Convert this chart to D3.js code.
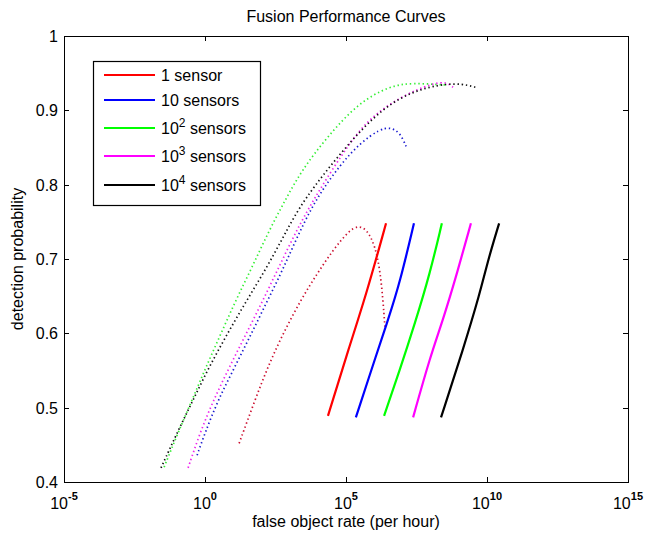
<!DOCTYPE html>
<html>
<head>
<meta charset="utf-8">
<script src="https://cdn.jsdelivr.net/npm/d3@7"></script>
<style>
  html, body { margin: 0; padding: 0; background: #fff; }
  svg { display: block; font-family: "Liberation Sans", Arial, sans-serif; }
  .tick-label { font-size: 16px; fill: #000; }
</style>
</head>
<body>
<svg id="chart" width="645" height="534"></svg>
<script>
// legend entries: [base text, superscript, rest]
const seriesNames = [
  ['1 sensor', '', ''],
  ['10 sensors', '', ''],
  ['10', '2', ' sensors'],
  ['10', '3', ' sensors'],
  ['10', '4', ' sensors']
]
const seriesColors = ['#ff0000', '#0000ff', '#00ff00', '#ff00ff', '#000000']
const dottedColors = ['#cc1030', '#1a1ad0', '#33ee33', '#ee22ee', '#111111']

// x values given as log10 exponents, y as detection probability
const xTickExponents = [-5, 0, 5, 10, 15]
const yTicks = [0.4, 0.5, 0.6, 0.7, 0.8, 0.9, 1]

// solid lines
const solid1 = [[4.36, 0.489], [5.10, 0.580], [5.74, 0.655], [6.42, 0.748]]
const solid10 = [[5.35, 0.487], [6.10, 0.574], [6.49, 0.618], [6.91, 0.668], [7.41, 0.748]]
const solid100 = [[6.35, 0.489], [6.91, 0.551], [7.45, 0.614], [7.98, 0.681], [8.40, 0.748]]
const solid1000 = [[7.38, 0.487], [7.98, 0.568], [8.44, 0.618], [8.94, 0.681], [9.43, 0.748]]
const solid10000 = [[8.37, 0.487], [9.15, 0.578], [9.75, 0.654], [10.04, 0.699], [10.43, 0.748]]

// dotted curves
const dotted1 = [[1.21, 0.452], [1.77, 0.510], [2.23, 0.555], [2.77, 0.600], [3.40, 0.645], [3.97, 0.680],
  [4.54, 0.712], [5.10, 0.738], [5.43, 0.745], [5.74, 0.740], [6.03, 0.718], [6.21, 0.684], [6.31, 0.645], [6.38, 0.609]]
const dotted10 = [[-0.28, 0.436], [0.0, 0.466], [0.46, 0.510], [1.06, 0.555], [1.65, 0.600], [2.23, 0.645],
  [2.80, 0.689], [3.33, 0.735], [3.97, 0.783], [4.80, 0.827], [5.50, 0.856], [6.21, 0.875], [6.56, 0.877],
  [6.91, 0.871], [7.16, 0.849]]
const dotted100 = [[-1.45, 0.420], [-0.96, 0.466], [-0.46, 0.510], [0.04, 0.555], [0.57, 0.600], [1.10, 0.645],
  [1.67, 0.689], [2.23, 0.735], [2.84, 0.779], [3.44, 0.820], [4.33, 0.864], [5.43, 0.910], [6.56, 0.933],
  [7.34, 0.937], [8.58, 0.934]]
const dotted1000 = [[-0.60, 0.419], [-0.18, 0.466], [0.30, 0.510], [0.87, 0.555], [1.47, 0.600], [2.06, 0.645],
  [2.62, 0.689], [3.20, 0.735], [3.83, 0.779], [4.89, 0.843], [5.74, 0.887], [6.91, 0.918], [8.09, 0.937],
  [8.58, 0.938], [8.83, 0.930]]
const dotted10000 = [[-1.56, 0.419], [-0.99, 0.466], [-0.43, 0.510], [0.15, 0.555], [0.80, 0.600], [1.49, 0.645],
  [2.20, 0.689], [2.85, 0.735], [3.48, 0.779], [4.89, 0.847], [6.31, 0.905], [7.62, 0.930], [8.94, 0.938],
  [9.68, 0.930]]

const solidSeries = [solid1, solid10, solid100, solid1000, solid10000]
const dottedSeries = [dotted1, dotted10, dotted100, dotted1000, dotted10000]

const svg = d3.select('#chart')
const margin = { top: 36, right: 17, bottom: 52, left: 64 }
const width = 645, height = 534
const innerW = width - margin.left - margin.right
const innerH = height - margin.top - margin.bottom

const x = d3.scaleLog().domain([1e-5, 1e15]).range([margin.left, margin.left + innerW])
const y = d3.scaleLinear().domain([0.4, 1]).range([margin.top + innerH, margin.top])

const line = d3.line()
  .x((d) => x(Math.pow(10, d[0])))
  .y((d) => y(d[1]))
  .curve(d3.curveBasis)

// title and axis labels
svg.append('text')
  .attr('x', margin.left + innerW / 2).attr('y', 22)
  .attr('text-anchor', 'middle').attr('font-size', 16)
  .text('Fusion Performance Curves')

svg.append('text')
  .attr('x', margin.left + innerW / 2).attr('y', 527)
  .attr('text-anchor', 'middle').attr('font-size', 16)
  .text('false object rate (per hour)')

svg.append('text')
  .attr('transform', `translate(23,${margin.top + innerH / 2}) rotate(-90)`)
  .attr('text-anchor', 'middle').attr('font-size', 16)
  .text('detection probability')

// curves
const plot = svg.append('g')
plot.selectAll('.dotted')
  .data(dottedSeries)
  .join('path')
  .attr('class', 'dotted')
  .attr('fill', 'none')
  .attr('stroke', (d, i) => dottedColors[i])
  .attr('stroke-width', 1.7)
  .attr('stroke-dasharray', '1.4 2.8')
  .attr('d', line)

plot.selectAll('.solid')
  .data(solidSeries)
  .join('path')
  .attr('class', 'solid')
  .attr('fill', 'none')
  .attr('stroke', (d, i) => seriesColors[i])
  .attr('stroke-width', 2.2)
  .attr('d', line)

// axes frame with inward ticks
const tickLen = 5
const axes = svg.append('g').attr('stroke', '#000').attr('shape-rendering', 'crispEdges')
axes.append('rect')
  .attr('x', margin.left + 0.5).attr('y', margin.top + 0.5)
  .attr('width', innerW).attr('height', innerH)
  .attr('fill', 'none').attr('stroke-width', 1.2)

xTickExponents.forEach((e) => {
  const px = Math.round(x(Math.pow(10, e))) + 0.5
  axes.append('line').attr('x1', px).attr('x2', px)
    .attr('y1', margin.top + innerH).attr('y2', margin.top + innerH - tickLen)
  axes.append('line').attr('x1', px).attr('x2', px)
    .attr('y1', margin.top).attr('y2', margin.top + tickLen)
})
yTicks.forEach((v) => {
  const py = Math.round(y(v)) + 0.5
  axes.append('line').attr('x1', margin.left).attr('x2', margin.left + tickLen)
    .attr('y1', py).attr('y2', py)
  axes.append('line').attr('x1', margin.left + innerW).attr('x2', margin.left + innerW - tickLen)
    .attr('y1', py).attr('y2', py)
})

// y tick labels
svg.selectAll('.ylab')
  .data(yTicks)
  .join('text')
  .attr('class', 'tick-label ylab')
  .attr('x', margin.left - 6)
  .attr('y', (d) => y(d) + 6)
  .attr('text-anchor', 'end')
  .text((d) => d3.format('.1~f')(d))

// x tick labels: 10 with superscript exponent
svg.selectAll('.xlab')
  .data(xTickExponents)
  .join('text')
  .attr('class', 'tick-label xlab')
  .attr('x', (d) => x(Math.pow(10, d)))
  .attr('y', 509)
  .attr('text-anchor', 'middle')
  .call((t) => {
    t.append('tspan').text('10')
    t.append('tspan').attr('dy', -9).attr('font-size', 11).attr('font-weight', 'bold').text((d) => d)
  })

// legend
const legendRows = [75, 100, 128, 156, 185]
const legend = svg.append('g')
legend.append('rect')
  .attr('x', 93.5).attr('y', 61.5).attr('width', 167).attr('height', 144)
  .attr('fill', '#fff').attr('stroke', '#000').attr('stroke-width', 1.2)

seriesNames.forEach((name, i) => {
  const ry = legendRows[i]
  legend.append('line')
    .attr('x1', 104).attr('x2', 155).attr('y1', ry).attr('y2', ry)
    .attr('stroke', seriesColors[i]).attr('stroke-width', 2.2)
  const t = legend.append('text')
    .attr('x', 161).attr('y', ry + 6).attr('font-size', 16)
  t.append('tspan').text(name[0])
  if (name[1]) {
    t.append('tspan').attr('dy', -7).attr('font-size', 12).text(name[1])
    t.append('tspan').attr('dy', 7).text(name[2])
  }
})
</script>
</body>
</html>
